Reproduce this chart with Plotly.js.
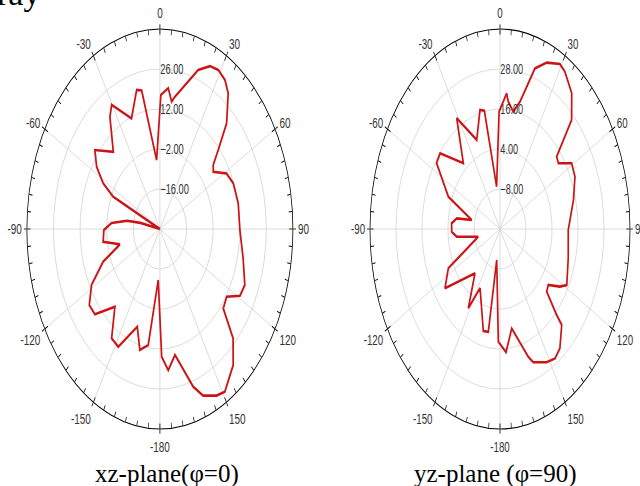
<!DOCTYPE html>
<html>
<head>
<meta charset="utf-8">
<script src="https://cdn.plot.ly/plotly-3.0.1.min.js"></script>
<style>
  html, body { margin:0; padding:0; background:#fff; width:640px; height:486px; overflow:hidden; }
  #wrap { position:relative; width:640px; height:486px; overflow:hidden; }
  .pp { position:absolute; top:0; width:520px; height:486px; transform-origin:0 0; }
  .cap { position:absolute; font-family:"Liberation Serif","Times New Roman",serif; color:#000; white-space:nowrap; }
</style>
</head>
<body>
<div id="wrap">
  <div id="pl" class="pp" style="left:-12.9px; transform:scaleX(0.665);"></div>
  <div id="pr" class="pp" style="left:331px; transform:scaleX(0.65);"></div>
  <div class="cap" style="left:-3px; top:-25px; font-size:34px;">ray</div>
  <div id="capL" class="cap" style="left:95px; top:460px; font-size:25px;">xz-plane(φ=0)</div>
  <div id="capR" class="cap" style="left:414px; top:460px; font-size:25px;">yz-plane (φ=90)</div>
</div>
<script>
// ---- data (angle in degrees, gain in dB) ----
const xzTheta = [355.9, 0.6, 5.1, 7.9, 9.7, 19.9, 24.8, 28.9, 33.3, 37.1, 43.5, 48, 51.4, 54.5, 61, 67.5, 77.7, 90.5, 103.2, 113.7, 119, 124, 129.8, 134.8, 141, 149, 152.9, 158.7, 162.4, 169.8, 174.9, 178.8, 182.8, 188.6, 194, 199.2, 208, 213.6, 221, 228.9, 234.4, 241.4, 249, 255.7, 261.5, 269.3, 274.8, 279.4, 281.8, 285, 294.7, 298.2, 303.2, 308.9, 317.8, 326.2, 329.7, 338.9, 345.9, 348.8, 355.9];
const xzGain  = [-5.8, 16.9, 19.5, 15.0, 17.0, 29.2, 32.8, 33.6, 32.4, 29.6, 21.0, 11.3, 5.9, 4.5, 10.1, 11.8, 12.2, 12.1, 15.0, 18.8, 18.2, 12.4, 13.4, 24.3, 31.3, 36.4, 35.5, 32.6, 27.9, 14.8, 19.6, 14.7, -12.1, 11.1, 13.6, 6.2, 16.7, 15.9, 6.1, 15.4, 15.7, 11.0, 2.0, -8.3, 0.2, -0.5, -4.5, -12.5, -19.5, -30, -2.9, 3.9, 9.8, 14.0, 6.5, 17.3, 20.3, 11.5, 20.2, 19.4, -5.8];

const yzTheta = [353, 359.3, 4.3, 5.7, 9.9, 13.6, 18.5, 23.4, 29.2, 32.4, 39.1, 45.3, 50.3, 53.8, 59.2, 65.6, 75.6, 90.5, 105.6, 118.6, 122, 127, 131.1, 134.6, 135.3, 142.3, 146.8, 151.7, 159, 161.2, 169.7, 175.7, 181.3, 189.3, 189.9, 194.1, 207.4, 211.6, 221, 235, 243.7, 257, 263.4, 267.9, 274.4, 279.1, 281.7, 292.1, 304, 309.4, 319.4, 329, 338.1, 345.5, 348.5, 353];
const yzGain  = [-7.2, 15.2, 20.8, 18.4, 15.7, 19.3, 30.8, 34.4, 36.7, 35.9, 32.5, 26.5, 14.0, 13.4, 18.5, 18.0, 15.0, 11.5, 12.7, 15.1, 12.6, 7.9, 8.6, 16.7, 20.5, 25.2, 26.4, 25.4, 22.8, 20.5, 10.3, 17.1, 13.8, -10.6, 11.3, 11.6, 0.0, 7.9, -2.4, 11.0, 6.6, -9.7, 0.1, 2.3, 2.4, 0.2, -6.7, 5.7, 15.3, 15.8, 6.0, 18.8, 8.8, 16.9, 16.2, -7.2];

// ---- ticks ----
const angTickVals = [0, 30, 60, 90, 120, 150, 180, 210, 240, 270, 300, 330];
const angTickText = ['0', '30', '60', '90', '120', '150', '-180', '-150', '-120', '-90', '-60', '-30'];
const xzRadRange = [-30, 40];
const xzRadTicks = [-16, -2, 12, 26];
const yzRadRange = [-20, 40];
const yzRadTicks = [-8, 4, 16, 28];
const minorStep = 5;

const minorVals = [];
for (let a = 0; a < 360; a += minorStep) minorVals.push(a);

function makePlot(div, theta, gain, radRange, radTicks) {
  const gridC = '#d4d4d4';
  const trace = {
    type: 'scatterpolar', mode: 'lines', r: gain, theta: theta,
    line: { color: '#cc1417', width: 2.6 }, subplot: 'polar', hoverinfo: 'skip'
  };
  const dummy = {
    type: 'scatterpolar', mode: 'lines', r: [radRange[0]], theta: [0],
    line: { color: 'rgba(0,0,0,0)' }, subplot: 'polar2', hoverinfo: 'skip'
  };
  const layout = {
    width: 520, height: 486,
    margin: { l: 60, r: 60, t: 29, b: 57 },
    paper_bgcolor: 'rgba(0,0,0,0)',
    showlegend: false,
    polar: {
      domain: { x: [0, 1], y: [0, 1] },
      bgcolor: '#ffffff',
      angularaxis: {
        rotation: 90, direction: 'clockwise',
        tickmode: 'array', tickvals: angTickVals, ticktext: angTickText,
        ticks: 'outside', ticklen: 4, tickcolor: '#000',
        showline: true, linecolor: '#000', linewidth: 1.2,
        showgrid: true, gridcolor: gridC, gridwidth: 1,
        tickfont: { family: 'Arial, Liberation Sans, sans-serif', size: 15, color: '#333' }
      },
      radialaxis: {
        range: radRange, angle: 90, side: 'clockwise', tickangle: 90,
        tickmode: 'array', tickvals: radTicks, tickformat: '.2f',
        ticks: '', showline: false,
        showgrid: true, gridcolor: gridC, gridwidth: 1,
        tickfont: { family: 'Arial, Liberation Sans, sans-serif', size: 14, color: '#333' }
      }
    },
    polar2: {
      domain: { x: [0, 1], y: [0, 1] },
      bgcolor: 'rgba(0,0,0,0)',
      angularaxis: {
        rotation: 90, direction: 'clockwise',
        tickmode: 'array', tickvals: minorVals, showticklabels: false,
        ticks: 'inside', ticklen: 5, tickcolor: '#000',
        showline: false, showgrid: false
      },
      radialaxis: {
        range: radRange, showgrid: false, showline: false, ticks: '',
        showticklabels: false
      }
    }
  };
  Plotly.newPlot(div, [trace, dummy], layout, { displayModeBar: false, staticPlot: true });
}

makePlot('pl', xzTheta, xzGain, xzRadRange, xzRadTicks);
makePlot('pr', yzTheta, yzGain, yzRadRange, yzRadTicks);
</script>
</body>
</html>
